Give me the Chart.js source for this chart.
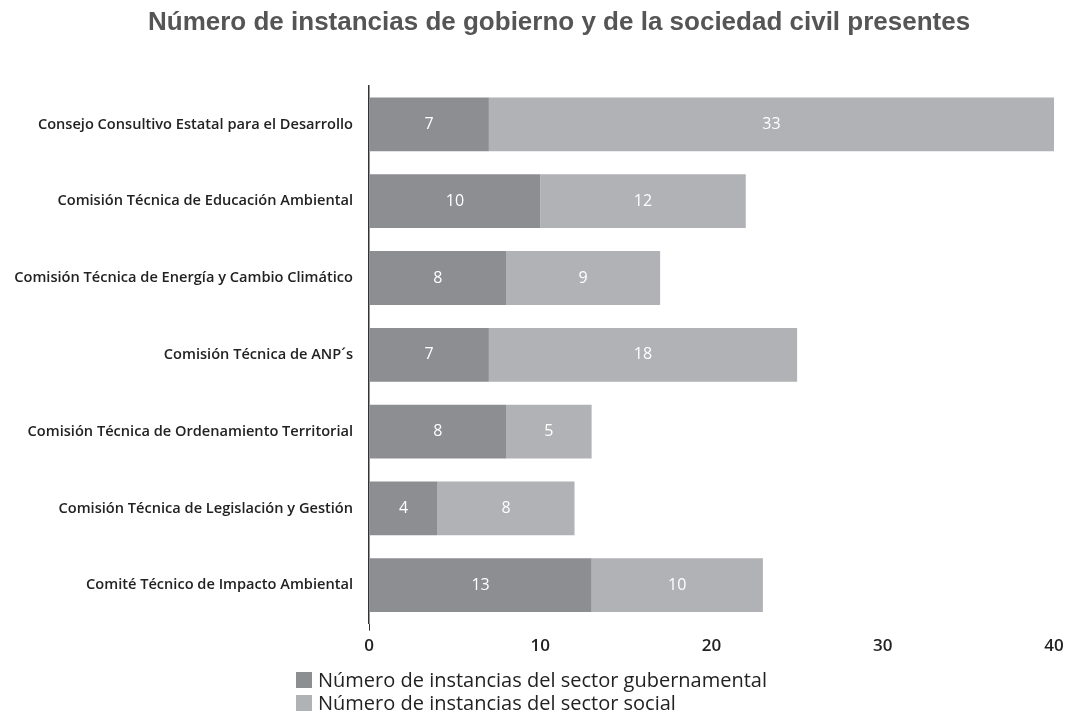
<!DOCTYPE html>
<html>
<head>
<meta charset="utf-8">
<script src="https://cdn.jsdelivr.net/npm/chart.js@4.4.1/dist/chart.umd.min.js"></script>
<style>
    body { margin: 0; background: #fff; }
    #wrap { position: relative; width: 1069px; height: 714px; }
    #title {
        position: absolute; left: 148px; top: 6px; white-space: nowrap;
        font-family: "Liberation Sans", Arial, sans-serif; font-size: 26px; font-weight: bold; color: #555;
    }
    #legend {
        position: absolute; left: 296px; top: 668px;
        font-family: "Open Sans", sans-serif; font-size: 20px; color: #222; line-height: 23px;
    }
    #legend .item { display: flex; align-items: center; }
    #legend .box { width: 16px; height: 16px; margin-right: 6px; }
</style>
</head>
<body>
<div id="wrap">
    <canvas id="chart" width="1069" height="714"></canvas>
    <div id="title">Número de instancias de gobierno y de la sociedad civil presentes</div>
    <div id="legend"></div>
</div>
<script>
const categories = [
    'Consejo Consultivo Estatal para el Desarrollo',
    'Comisión Técnica de Educación Ambiental',
    'Comisión Técnica de Energía y Cambio Climático',
    'Comisión Técnica de ANP´s',
    'Comisión Técnica de Ordenamiento Territorial',
    'Comisión Técnica de Legislación y Gestión',
    'Comité Técnico de Impacto Ambiental'
];
const gubernamental = [7, 10, 8, 7, 8, 4, 13];
const social = [33, 12, 9, 18, 5, 8, 10];
const xTicks = [0, 10, 20, 30, 40];

const colors = ['#8d8e92', '#b1b2b5'];

// white value labels in the middle of each segment
const valueLabels = {
    id: 'valueLabels',
    afterDatasetsDraw(chart) {
        const ctx = chart.ctx;
        ctx.save();
        ctx.fillStyle = '#fff';
        ctx.font = '16px "Open Sans", sans-serif';
        ctx.textAlign = 'center';
        ctx.textBaseline = 'middle';
        chart.data.datasets.forEach((ds, i) => {
            chart.getDatasetMeta(i).data.forEach((bar, j) => {
                const x = (bar.x + bar.base) / 2;
                ctx.fillText(ds.data[j], x, bar.y);
            });
        });
        ctx.restore();
    }
};

const chart = new Chart(document.getElementById('chart'), {
    type: 'bar',
    data: {
        labels: categories,
        datasets: [
            { label: 'Número de instancias del sector gubernamental', data: gubernamental, backgroundColor: colors[0] },
            { label: 'Número de instancias del sector social', data: social, backgroundColor: colors[1] }
        ]
    },
    options: {
        indexAxis: 'y',
        responsive: false,
        animation: false,
        layout: { padding: { top: 86, right: 15, bottom: 53, left: 0 } },
        datasets: { bar: { categoryPercentage: 1, barPercentage: 0.70 } },
        scales: {
            x: {
                stacked: true,
                min: 0,
                max: 40,
                afterBuildTicks: axis => { axis.ticks = xTicks.map(v => ({ value: v })); },
                border: { display: false },
                grid: {
                    drawOnChartArea: false,
                    tickLength: 7,
                    color: c => c.index === 0 ? '#333' : 'rgba(0,0,0,0)'
                },
                ticks: {
                    color: '#222',
                    padding: 5,
                    font: { family: '"Open Sans", sans-serif', size: 17, weight: '600' }
                }
            },
            y: {
                stacked: true,
                afterFit: axis => { axis.width = 369; },
                border: { display: true, color: '#333', width: 1.5 },
                grid: { display: false, drawTicks: false },
                ticks: {
                    color: '#222',
                    padding: 16,
                    font: { family: '"Open Sans", sans-serif', size: 14.6, weight: '600' }
                }
            }
        },
        plugins: {
            legend: { display: false },
            tooltip: { enabled: false }
        }
    },
    plugins: [valueLabels]
});

document.getElementById('legend').innerHTML = chart.data.datasets.map(ds => `
    <div class="item"><span class="box" style="background:${ds.backgroundColor}"></span>${ds.label}</div>
`).join('');
</script>
</body>
</html>
